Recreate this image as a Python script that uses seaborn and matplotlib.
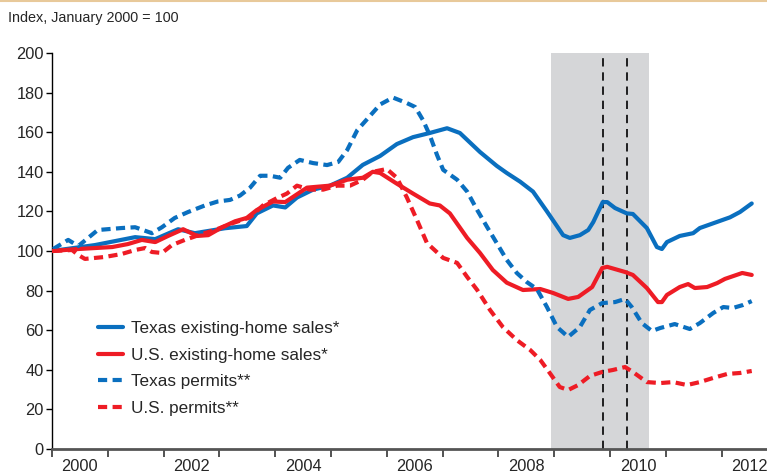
import matplotlib
matplotlib.use("Agg")
import matplotlib.pyplot as plt
import pandas as pd
import seaborn as sns

# Data (decimal years, index Jan 2000 = 100)
tx_sales_year = [2000.00, 2000.77, 2001.49, 2001.85, 2002.26, 2002.56, 2003.10, 2003.49,
                 2003.67, 2003.96, 2004.18, 2004.39, 2004.68, 2004.98, 2005.29, 2005.57,
                 2005.88, 2006.18, 2006.47, 2006.77, 2007.08, 2007.31, 2007.67, 2007.97,
                 2008.15, 2008.39, 2008.62, 2008.87, 2009.16, 2009.28, 2009.46, 2009.61,
                 2009.70, 2009.87, 2009.95, 2010.09, 2010.30, 2010.41, 2010.66, 2010.84,
                 2010.93, 2011.02, 2011.25, 2011.49, 2011.61, 2011.85, 2012.15, 2012.33,
                 2012.54]
tx_sales = [100, 103, 107, 106, 111, 109, 111.5, 112.6,
            119, 123, 122, 127, 131, 133, 137, 143.5,
            148, 154, 157.5, 159.6, 162, 159.6, 150, 143,
            139.4, 135, 130, 120, 108, 106.6, 108, 110.6,
            114.6, 124.7, 124.7, 121.7, 119, 118.7, 111.6, 102,
            101, 104.5, 107.6, 109, 111.6, 114, 117, 119.7,
            124]

us_sales_year = [2000.00, 2000.47, 2001.08, 2001.36, 2001.61, 2001.85, 2002.08, 2002.35,
                 2002.60, 2002.80, 2003.05, 2003.28, 2003.49, 2003.67, 2003.96, 2004.18,
                 2004.57, 2004.98, 2005.29, 2005.57, 2005.75, 2005.88, 2006.18, 2006.47,
                 2006.77, 2006.95, 2007.13, 2007.44, 2007.67, 2007.90, 2008.15, 2008.44,
                 2008.75, 2008.98, 2009.25, 2009.43, 2009.68, 2009.86, 2009.95, 2010.27,
                 2010.41, 2010.66, 2010.86, 2010.93, 2011.02, 2011.25, 2011.40, 2011.52,
                 2011.74, 2011.92, 2012.06, 2012.37, 2012.54]
us_sales = [100, 101, 102, 103.5, 105.6, 104.5, 107.6, 111,
            107.6, 108, 112, 115, 116.7, 120.7, 125, 124.7,
            132, 133, 136, 137, 140, 139.4, 134, 129,
            124, 123, 119, 106.6, 99, 90.4, 84, 80.3,
            80.8, 78.8, 75.8, 76.8, 81.8, 91.4, 92, 89.4,
            87.9, 81.3, 74.2, 74.2, 77.8, 81.8, 83.3, 81.3,
            81.8, 83.8, 85.9, 88.9, 87.9]

tx_permits_year = [2000.02, 2000.29, 2000.47, 2000.82, 2001.25, 2001.49, 2001.79, 2001.97,
                   2002.20, 2002.44, 2002.74, 2002.97, 2003.19, 2003.37, 2003.55, 2003.73,
                   2003.91, 2004.09, 2004.23, 2004.44, 2004.68, 2004.93, 2005.13, 2005.29,
                   2005.47, 2005.65, 2005.88, 2006.11, 2006.36, 2006.51, 2006.65, 2006.77,
                   2006.90, 2007.01, 2007.26, 2007.44, 2007.62, 2007.80, 2007.97, 2008.15,
                   2008.33, 2008.51, 2008.69, 2008.87, 2009.05, 2009.25, 2009.46, 2009.64,
                   2009.86, 2010.09, 2010.27, 2010.39, 2010.57, 2010.75, 2010.90, 2011.16,
                   2011.43, 2011.61, 2011.85, 2012.03, 2012.20, 2012.38, 2012.54]
tx_permits = [101, 105.6, 102.5, 110.6, 111.6, 112, 109, 112,
              116.7, 119.7, 123, 125, 125.8, 128, 132, 138,
              138, 137, 142, 146, 144.4, 143.4, 145, 151,
              161, 166.7, 174, 177.5, 174.7, 172.7, 166, 158.5,
              148.5, 141, 136, 130, 120.7, 112, 104, 95.5,
              88.9, 84.3, 80.8, 71.7, 61.6, 56.6, 61.6, 70.2,
              73.7, 74.2, 75.8, 71.7, 63.6, 59.6, 61.1, 63.1,
              60.6, 63.6, 68.7, 71.7, 71.2, 72.7, 74.7]

us_permits_year = [2000.02, 2000.36, 2000.47, 2000.59, 2000.95, 2001.25, 2001.49, 2001.67,
                   2001.79, 2001.97, 2002.15, 2002.38, 2002.69, 2002.92, 2003.23, 2003.55,
                   2003.78, 2004.03, 2004.21, 2004.39, 2004.62, 2004.86, 2005.11, 2005.34,
                   2005.57, 2005.75, 2006.00, 2006.18, 2006.36, 2006.54, 2006.72, 2007.01,
                   2007.26, 2007.44, 2007.62, 2007.85, 2008.08, 2008.33, 2008.57, 2008.75,
                   2008.92, 2009.10, 2009.25, 2009.43, 2009.64, 2009.86, 2010.05, 2010.27,
                   2010.41, 2010.66, 2010.90, 2011.13, 2011.38, 2011.61, 2011.85, 2012.10,
                   2012.33, 2012.54]
us_permits = [100, 100.5, 98, 96, 97, 98.5, 100.5, 101.5,
              99.5, 99, 103, 105.6, 108.6, 110.6, 114, 117,
              123, 126.7, 129, 133, 131, 131, 133, 133,
              136, 140, 141.4, 137, 127, 115.7, 104, 96.5,
              94, 86.9, 80.3, 70.2, 61.6, 55, 50, 45,
              38.4, 31.3, 29.8, 32.3, 36.9, 38.9, 39.9, 41.4,
              38.9, 33.8, 33.3, 33.8, 32.3, 33.8, 35.9, 37.9,
              38.4, 39.4]

series_names = ["Texas existing-home sales*", "U.S. existing-home sales*",
                "Texas permits**", "U.S. permits**"]
shade_span = (2008.94, 2010.70)
vline_years = [2009.88, 2010.30]
year_ticks = list(range(2000, 2013))
label_years = [2000, 2002, 2004, 2006, 2008, 2010, 2012]

BLUE = "#0a6fbf"
RED = "#ee1c25"


def build_frame():
    parts = []
    for name, xs, ys in zip(series_names,
                            [tx_sales_year, us_sales_year, tx_permits_year, us_permits_year],
                            [tx_sales, us_sales, tx_permits, us_permits]):
        parts.append(pd.DataFrame({"year": xs, "value": ys, "series": name}))
    return pd.concat(parts, ignore_index=True)


def main():
    sns.set_style("ticks")
    plt.rcParams["font.family"] = ["Liberation Sans Narrow", "Liberation Sans", "DejaVu Sans"]

    df = build_frame()

    fig = plt.figure(figsize=(7.67, 4.75), dpi=100)
    ax = fig.add_axes([52 / 767, 1 - 449 / 475, 1 - 52 / 767, (449 - 53) / 475])

    # shaded period and the two dashed markers
    ax.axvspan(*shade_span, color="#d5d6d8", lw=0, zorder=0)
    for xv in vline_years:
        ax.axvline(xv, color="black", lw=1.2, ls=(0, (5, 3.5)), zorder=1)

    palette = dict(zip(series_names, [BLUE, RED, BLUE, RED]))
    dashes = dict(zip(series_names, ["", "", (2.2, 1.3), (2.2, 1.3)]))
    sns.lineplot(data=df, x="year", y="value", hue="series", style="series",
                 hue_order=series_names, style_order=series_names,
                 palette=palette, dashes=dashes, linewidth=3, ax=ax, zorder=3)

    ax.set_xlim(2000, 2000 + (767 - 52) / 55.8)
    ax.set_ylim(0, 200)
    ax.set_yticks(range(0, 201, 20))
    ax.set_xticks(year_ticks)
    ax.set_xticklabels([])
    ax.set_xticks([y + 0.5 for y in label_years], minor=True)
    ax.set_xticklabels([str(y) for y in label_years], minor=True)
    ax.tick_params(axis="x", which="major", length=6, width=1.3, color="#444444")
    ax.tick_params(axis="x", which="minor", length=0, pad=7, labelsize=11.8)
    ax.tick_params(axis="y", length=4, width=1, color="black", labelsize=11.8, pad=2)
    ax.set_xlabel("")
    ax.set_ylabel("")

    sns.despine(ax=ax, top=True, right=True)
    ax.spines["bottom"].set_linewidth(2)
    ax.spines["bottom"].set_color("#555555")
    ax.spines["left"].set_linewidth(1)
    ax.spines["left"].set_color("black")
    ax.spines["bottom"].set_zorder(4)

    sns.move_legend(ax, "upper left", bbox_to_anchor=(0.055, 0.34), frameon=False,
                    title=None, fontsize=12.3, handlelength=1.45, handletextpad=0.5,
                    labelspacing=0.68, borderaxespad=0)

    fig.text(8 / 767, 1 - 18 / 475, "Index, January 2000 = 100", fontsize=10.4,
             va="center", ha="left")
    fig.add_artist(plt.Line2D([0, 1], [0.998, 0.998], color="#e8c99a", lw=1.5,
                              transform=fig.transFigure))

    fig.savefig("out.png", dpi=100)
    plt.close(fig)


if __name__ == "__main__":
    main()
